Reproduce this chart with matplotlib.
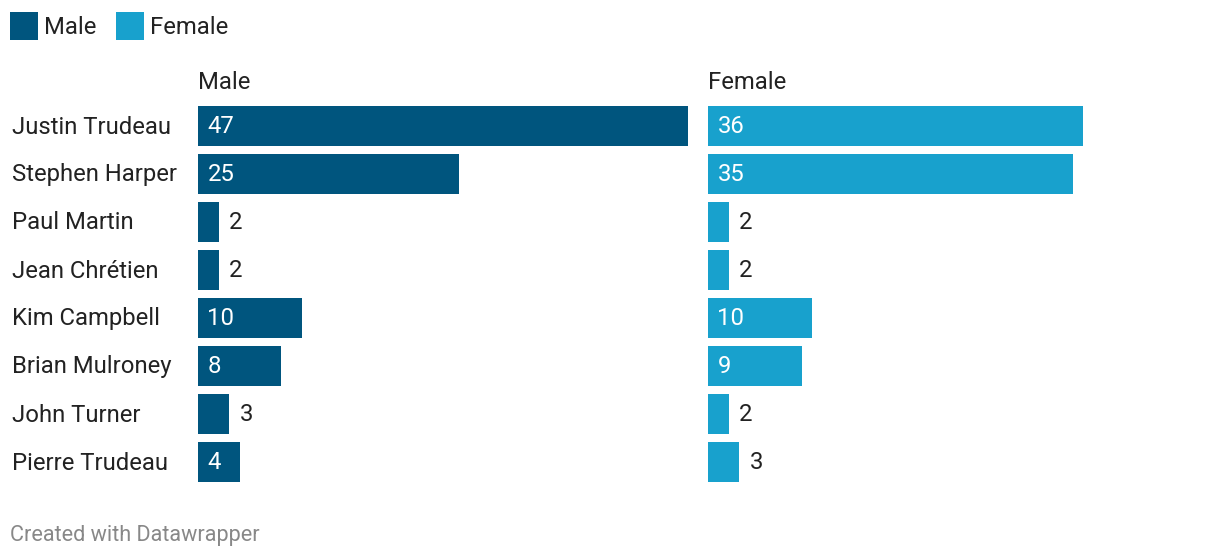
import matplotlib
matplotlib.use('Agg')
import matplotlib.pyplot as plt
from matplotlib.patches import Rectangle

plt.rcParams['font.family'] = ['Roboto', 'DejaVu Sans']

# data
names = ['Justin Trudeau', 'Stephen Harper', 'Paul Martin', 'Jean Chrétien',
         'Kim Campbell', 'Brian Mulroney', 'John Turner', 'Pierre Trudeau']
male = [47, 25, 2, 2, 10, 8, 3, 4]
female = [36, 35, 2, 2, 10, 9, 2, 3]
series = ['Male', 'Female']
colors = ['#00557e', '#18a1cd']

W, H = 1220, 560
fig = plt.figure(figsize=(W / 100, H / 100), dpi=100)
fig.patch.set_facecolor('white')

text_col = '#222222'
fs = 17.2
xmax = max(max(male), max(female))

def px(x, y):
    # pixel position (from top-left) to figure fraction
    return x / W, 1 - y / H

# two panels, same scale
top, bottom = 102, 486
panels = [(198, male), (708, female)]
for (left, vals), name, col in zip(panels, series, colors):
    ax = fig.add_axes([left / W, 1 - bottom / H, 490 / W, (bottom - top) / H])
    ypos = range(len(vals))
    ax.barh(ypos, vals, height=0.833, color=col)
    ax.set_xlim(0, xmax)
    ax.set_ylim(len(vals) - 0.5, -0.5)
    ax.axis('off')
    for i, v in enumerate(vals):
        if v >= 4:
            ax.annotate(str(v), (0, i), xytext=(6.8, -0.7), textcoords='offset points',
                        va='center', ha='left', color='white', fontsize=fs)
        else:
            ax.annotate(str(v), (v, i), xytext=(7.5, -0.7), textcoords='offset points',
                        va='center', ha='left', color=text_col, fontsize=fs)
    fig.text(*px(left, 82.5), name, ha='left', va='center', fontsize=fs, color=text_col)

# row labels
for i, n in enumerate(names):
    fig.text(*px(12, 127 + 48 * i), n, ha='left', va='center', fontsize=fs, color=text_col)

# legend
lx = [10, 116]
for x, name, col in zip(lx, series, colors):
    fig.add_artist(Rectangle(px(x, 40), 28 / W, 28 / H, transform=fig.transFigure,
                             facecolor=col, edgecolor='none'))
    fig.text(*px(x + 34, 27), name, ha='left', va='center', fontsize=fs, color=text_col)

fig.text(*px(10, 535), 'Created with Datawrapper', ha='left', va='center',
         fontsize=15.6, color='#888888')

fig.savefig('out.png', dpi=100)
